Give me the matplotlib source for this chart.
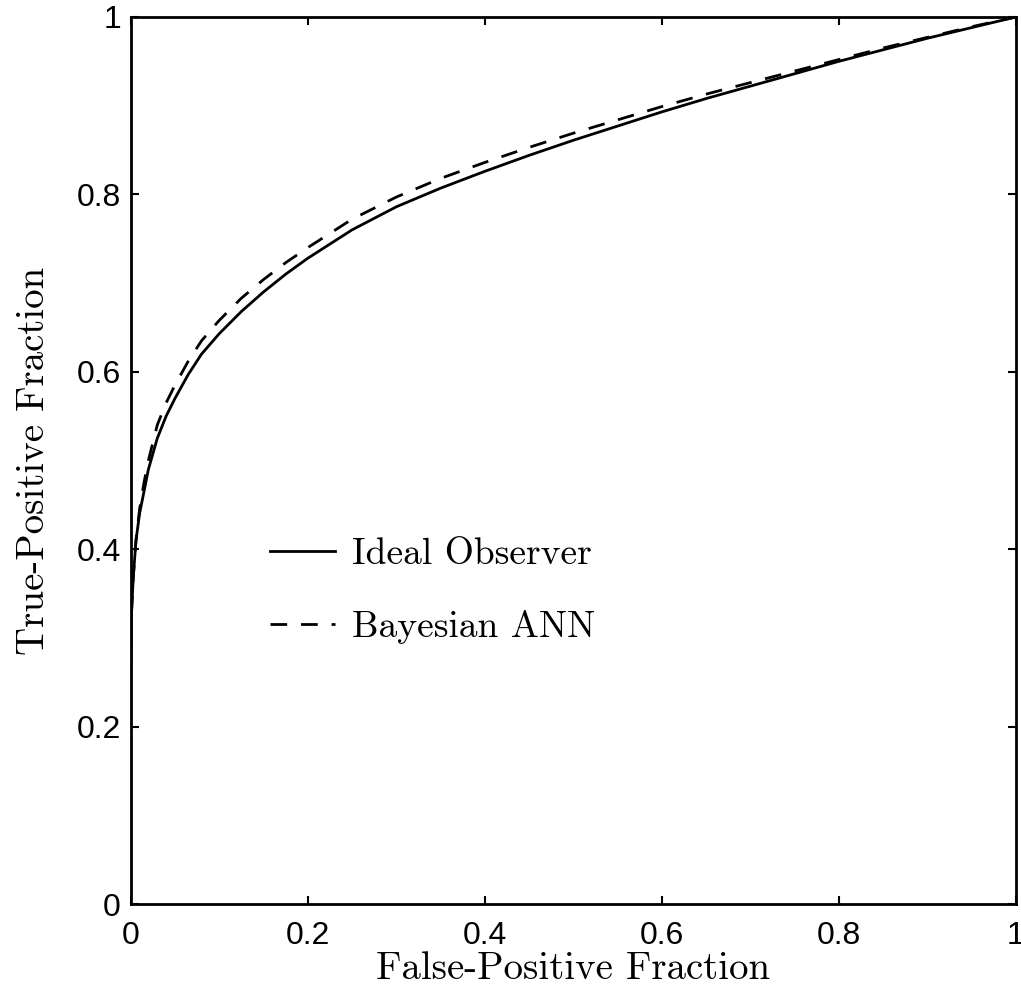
import matplotlib
matplotlib.use("Agg")
import matplotlib.pyplot as plt

# ROC data
fpf = [0.0, 0.001, 0.003, 0.006, 0.01, 0.015, 0.02, 0.03, 0.04, 0.05, 0.065, 0.08,
       0.1, 0.125, 0.15, 0.175, 0.2, 0.25, 0.3, 0.35, 0.4, 0.45, 0.5, 0.55, 0.6,
       0.65, 0.7, 0.75, 0.8, 0.85, 0.9, 0.95, 1.0]
tpf_ideal = [0.26, 0.33, 0.37, 0.41, 0.44, 0.465, 0.49, 0.525, 0.55, 0.57, 0.597, 0.62,
             0.643, 0.668, 0.69, 0.71, 0.728, 0.76, 0.786, 0.807, 0.826, 0.844, 0.861,
             0.877, 0.893, 0.908, 0.922, 0.936, 0.950, 0.963, 0.976, 0.988, 1.0]
tpf_ann = [0.26, 0.33, 0.37, 0.41, 0.445, 0.475, 0.50, 0.54, 0.565, 0.585, 0.612, 0.635,
           0.658, 0.683, 0.704, 0.723, 0.740, 0.772, 0.797, 0.818, 0.836, 0.853, 0.869,
           0.884, 0.899, 0.913, 0.926, 0.939, 0.952, 0.965, 0.977, 0.989, 1.0]
ticks = [0, 0.2, 0.4, 0.6, 0.8, 1]
tick_labels = ["0", "0.2", "0.4", "0.6", "0.8", "1"]

fig = plt.figure(figsize=(10.21, 9.98), dpi=100)
ax = fig.add_axes([0.128, 0.094, 0.867, 0.889])

ax.plot(fpf, tpf_ideal, color="black", lw=2.0, label="Ideal Observer")
ax.plot(fpf, tpf_ann, color="black", lw=2.0, dashes=(6, 5), label="Bayesian ANN")

ax.set_xlim(0, 1)
ax.set_ylim(0, 1)
ax.set_xticks(ticks)
ax.set_yticks(ticks)
ax.set_xticklabels(tick_labels, fontfamily="Liberation Sans", fontsize=23)
ax.set_yticklabels(tick_labels, fontfamily="Liberation Sans", fontsize=23)
ax.tick_params(axis="both", direction="in", length=6, width=1.5,
               top=True, right=True)
ax.tick_params(axis="x", pad=12)
ax.tick_params(axis="y", pad=7)
for s in ax.spines.values():
    s.set_linewidth(2.0)

ax.set_xlabel("False-Positive Fraction", fontfamily="cmr10", fontsize=28, labelpad=0)
ax.set_ylabel("True-Positive Fraction", fontfamily="cmr10", fontsize=28, labelpad=18)

leg = ax.legend(loc="center left", bbox_to_anchor=(0.157, 0.353),
                bbox_transform=ax.transData, frameon=False,
                prop={"family": "cmr10", "size": 27},
                handlelength=1.75, handletextpad=0.45, labelspacing=1.05,
                borderpad=0, borderaxespad=0)

fig.savefig("out.png", dpi=100)
